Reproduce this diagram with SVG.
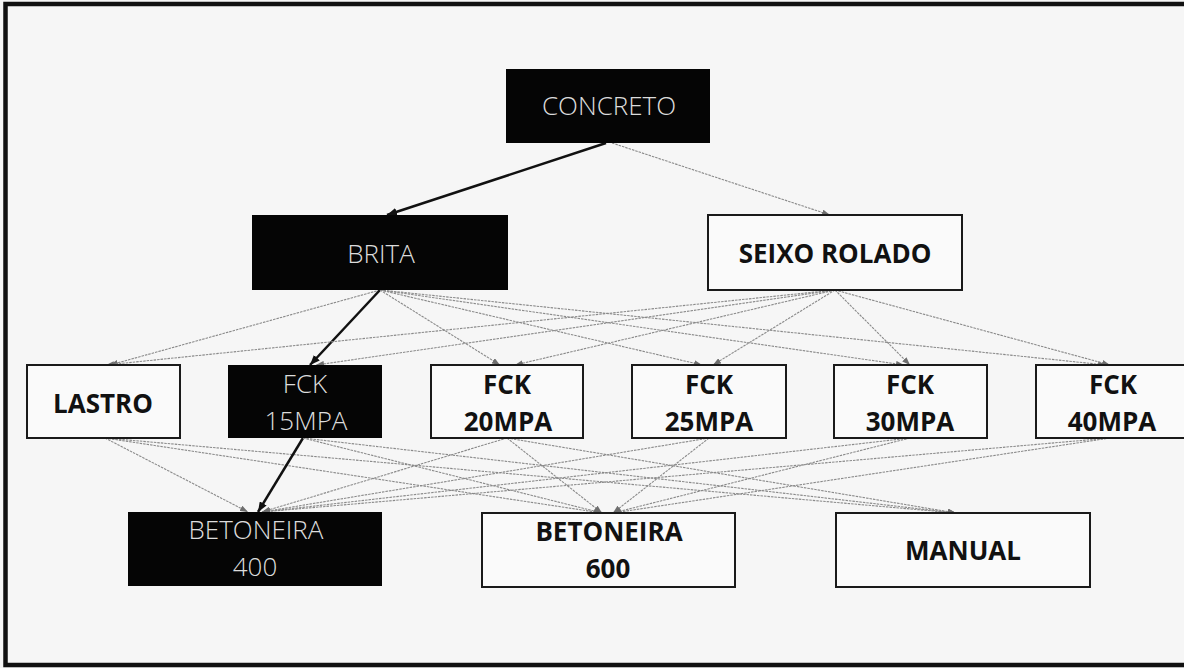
<svg xmlns="http://www.w3.org/2000/svg" width="1184" height="668" viewBox="0 0 1184 668">
<defs>
<marker id="ag" viewBox="0 0 8 6" refX="8" refY="3" markerWidth="8" markerHeight="6" markerUnits="userSpaceOnUse" orient="auto"><path d="M0,0 L8,3 L0,6 Z" fill="#6e6e6e"/></marker>
<marker id="ab" viewBox="0 0 10 8" refX="10" refY="4" markerWidth="10" markerHeight="8" markerUnits="userSpaceOnUse" orient="auto"><path d="M0,0 L10,4 L0,8 Z" fill="#111"/></marker>
<style>
.bg{fill:#f6f6f6}
.frame{fill:none;stroke:#111;stroke-width:4.5}
.dark{fill:#050505}
.light{fill:#fafafa;stroke:#1a1a1a;stroke-width:2}
.tl{font-family:"Open Sans","Liberation Sans",sans-serif;font-weight:300;font-size:26px;fill:#dcdcdc;text-anchor:middle}
.tb{font-family:"Open Sans","Liberation Sans",sans-serif;font-weight:700;font-size:26px;fill:#111;text-anchor:middle}
.g{stroke:#8a8a8a;stroke-width:1.1;stroke-dasharray:2.5 1;fill:none;marker-end:url(#ag)}
.k{stroke:#111;stroke-width:2.5;fill:none;marker-end:url(#ab)}
</style>
</defs>
<rect class="bg" x="0" y="0" width="1184" height="668"/>
<rect class="frame" x="5.5" y="4" width="1200" height="661"/>

<g id="connectors">
<line class="k" x1="606" y1="143" x2="387" y2="215"/>
<line class="g" x1="612" y1="143" x2="830" y2="215"/>

<line class="g" x1="380" y1="290" x2="110" y2="365"/>
<line class="k" x1="380" y1="290" x2="310" y2="365"/>
<line class="g" x1="380" y1="290" x2="500" y2="365"/>
<line class="g" x1="380" y1="290" x2="702" y2="365"/>
<line class="g" x1="380" y1="290" x2="904" y2="365"/>
<line class="g" x1="380" y1="290" x2="1106" y2="365"/>

<line class="g" x1="835" y1="290" x2="106" y2="365"/>
<line class="g" x1="835" y1="290" x2="316" y2="365"/>
<line class="g" x1="835" y1="290" x2="515" y2="365"/>
<line class="g" x1="835" y1="290" x2="713" y2="365"/>
<line class="g" x1="835" y1="290" x2="910" y2="365"/>
<line class="g" x1="835" y1="290" x2="1110" y2="365"/>

<line class="g" x1="105" y1="438" x2="248" y2="512"/>
<line class="g" x1="105" y1="438" x2="602" y2="513"/>
<line class="g" x1="105" y1="438" x2="956" y2="513"/>
<line class="k" x1="303" y1="438" x2="258" y2="512"/>
<line class="g" x1="303" y1="438" x2="602" y2="513"/>
<line class="g" x1="303" y1="438" x2="956" y2="513"/>
<line class="g" x1="507" y1="438" x2="262" y2="512"/>
<line class="g" x1="507" y1="438" x2="602" y2="513"/>
<line class="g" x1="507" y1="438" x2="956" y2="513"/>
<line class="g" x1="709" y1="438" x2="262" y2="512"/>
<line class="g" x1="709" y1="438" x2="613" y2="513"/>
<line class="g" x1="910" y1="438" x2="262" y2="512"/>
<line class="g" x1="910" y1="438" x2="613" y2="513"/>
<line class="g" x1="1110" y1="438" x2="262" y2="512"/>
<line class="g" x1="1110" y1="438" x2="613" y2="513"/>
</g>

<g id="concreto"><rect class="dark" x="506" y="69" width="204" height="74"/><text class="tl" x="609" y="115">CONCRETO</text></g>
<g id="brita"><rect class="dark" x="252" y="215" width="256" height="75"/><text class="tl" x="381" y="263">BRITA</text></g>
<g id="seixo-rolado"><rect class="light" x="708" y="215" width="254" height="75"/><text class="tb" x="835" y="263">SEIXO ROLADO</text></g>

<g id="lastro"><rect class="light" x="27" y="365" width="153" height="73"/><text class="tb" x="103" y="413">LASTRO</text></g>
<g id="fck15"><rect class="dark" x="228" y="365" width="154" height="73"/><text class="tl" x="305" y="393">FCK</text><text class="tl" x="306" y="430">15MPA</text></g>
<g id="fck20"><rect class="light" x="431" y="365" width="152" height="73"/><text class="tb" x="507" y="394">FCK</text><text class="tb" x="508" y="431">20MPA</text></g>
<g id="fck25"><rect class="light" x="632" y="365" width="154" height="73"/><text class="tb" x="709" y="394">FCK</text><text class="tb" x="709" y="431">25MPA</text></g>
<g id="fck30"><rect class="light" x="834" y="365" width="153" height="73"/><text class="tb" x="910" y="394">FCK</text><text class="tb" x="910" y="431">30MPA</text></g>
<g id="fck40"><rect class="light" x="1036" y="365" width="153" height="73"/><text class="tb" x="1113" y="394">FCK</text><text class="tb" x="1112" y="431">40MPA</text></g>

<g id="betoneira400"><rect class="dark" x="128" y="512" width="254" height="74"/><text class="tl" x="256" y="539">BETONEIRA</text><text class="tl" x="255" y="576">400</text></g>
<g id="betoneira600"><rect class="light" x="482" y="513" width="253" height="74"/><text class="tb" x="609" y="541">BETONEIRA</text><text class="tb" x="608" y="578">600</text></g>
<g id="manual"><rect class="light" x="836" y="513" width="254" height="74"/><text class="tb" x="963" y="560">MANUAL</text></g>
</svg>
